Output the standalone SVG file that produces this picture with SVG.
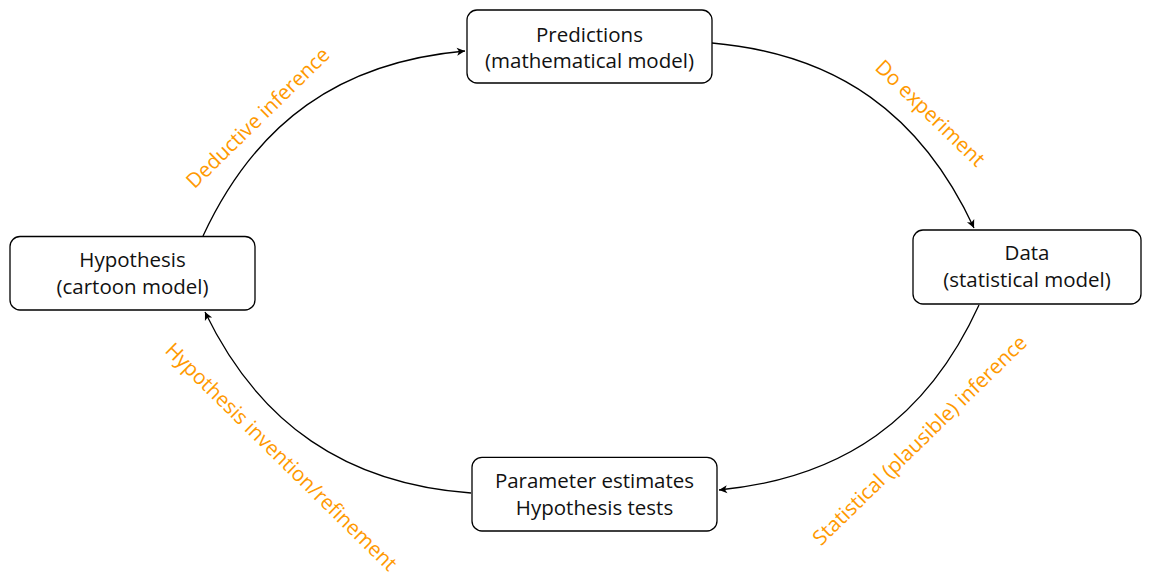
<svg xmlns="http://www.w3.org/2000/svg" width="1151" height="575" viewBox="0 0 1151 575">
<style>
.box{fill:#fff;stroke:#000;stroke-width:1.3}
.t{font-family:"Open Sans","Liberation Sans",sans-serif;font-size:20.5px;fill:#111;text-anchor:middle}
.lbl{font-family:"Open Sans","Liberation Sans",sans-serif;font-size:20.5px;fill:#FF9900;text-anchor:middle}
.edge{fill:none;stroke:#000;stroke-width:1.3;marker-end:url(#arr)}
</style>
<defs>
<marker id="arr" markerUnits="userSpaceOnUse" markerWidth="10" markerHeight="10" viewBox="-7 -4 8 8" refX="0" refY="0" orient="auto">
<path d="M0,0 L-6.5,-3.2 L-4.8,0 L-6.5,3.2 Z" fill="#000"/>
</marker>
</defs>
<g id="connectors">
<path class="edge" d="M203,236 C256,122 340,62 465,51"/>
<path class="edge" d="M712,43 C837,54 921,114 974,228"/>
<path class="edge" d="M979,305 C927,419 843,478 719,490"/>
<path class="edge" d="M471,493 C346,484 259,424 205,312"/>
</g>
<g id="labels">
<text class="lbl" transform="translate(262.8,122.9) rotate(-44.3)">Deductive inference</text>
<text class="lbl" transform="translate(925.3,118.3) rotate(44)">Do experiment</text>
<text class="lbl" transform="translate(276.3,461.8) rotate(44.5)">Hypothesis invention/refinement</text>
<text class="lbl" transform="translate(924.7,445.3) rotate(-44.3)">Statistical (plausible) inference</text>
</g>
<g id="predictions">
<rect class="box" x="467" y="10" width="245" height="73" rx="10"/>
<text class="t" x="589.5" y="41.7">Predictions</text>
<text class="t" x="589.5" y="68.3">(mathematical model)</text>
</g>
<g id="hypothesis">
<rect class="box" x="10" y="236.5" width="245" height="73.5" rx="10"/>
<text class="t" x="132.5" y="267">Hypothesis</text>
<text class="t" x="132.5" y="293.5">(cartoon model)</text>
</g>
<g id="data">
<rect class="box" x="913" y="230" width="228" height="74" rx="10"/>
<text class="t" x="1027" y="260">Data</text>
<text class="t" x="1027" y="286.7">(statistical model)</text>
</g>
<g id="parameters">
<rect class="box" x="472" y="457.3" width="245" height="73.7" rx="10"/>
<text class="t" x="594.5" y="488">Parameter estimates</text>
<text class="t" x="594.5" y="515">Hypothesis tests</text>
</g>
</svg>
